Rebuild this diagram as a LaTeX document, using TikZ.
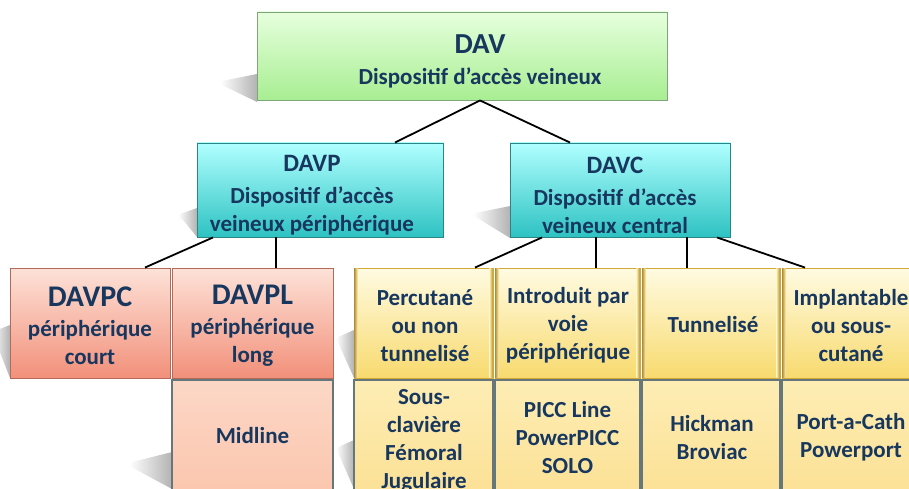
\documentclass[tikz,border=0pt]{standalone}
\usepackage{fontspec}
\setmainfont{Carlito}
\definecolor{txt}{HTML}{17375E}
\definecolor{gTop}{HTML}{E6FFDD}
\definecolor{gBot}{HTML}{A8EE92}
\definecolor{gBrd}{HTML}{7FA67A}
\definecolor{cTop}{HTML}{B0FFFF}
\definecolor{cBot}{HTML}{2EC2C2}
\definecolor{cBrd}{HTML}{2A8585}
\definecolor{sTop}{HTML}{FDE2D8}
\definecolor{sBot}{HTML}{F2907A}
\definecolor{sBrd}{HTML}{B36A5A}
\definecolor{mFill}{HTML}{FBC6AE}
\definecolor{yTop}{HTML}{FFFBE2}
\definecolor{yBot}{HTML}{F8DA6E}
\definecolor{yBrd}{HTML}{D2A838}
\definecolor{y2Top}{HTML}{FDEDB4}
\definecolor{y2Bot}{HTML}{FCE196}
\definecolor{grBrd}{HTML}{66777C}
\begin{document}
\begin{tikzpicture}[x=1pt,y=-1pt,
  box/.style={draw, line width=0.9pt, inner sep=0pt},
  lbl/.style={align=center, inner sep=0pt, text=txt,
    font=\bfseries\fontsize{23}{28}\selectfont},
  gbox/.style={box, draw=gBrd, top color=gTop, bottom color=gBot},
  cbox/.style={box, draw=cBrd, top color=cTop, bottom color=cBot},
  sbox/.style={box, draw=sBrd, top color=sTop, bottom color=sBot},
  mbox/.style={box, draw=grBrd, line width=1.3pt, top color=mFill!70!white, bottom color=mFill},
  ybox/.style={box, draw=yBrd, top color=yTop, bottom color=yBot},
  y2box/.style={box, draw=grBrd, line width=1.3pt, top color=y2Top, bottom color=y2Bot},
  conn/.style={line width=1.8pt, black},
  shadowtri/.style={left color=white, right color=black!30, draw=none},
  bevel/.style={left color=yBrd!85!black, right color=yBot!40!yTop, draw=none},
  bevelr/.style={right color=yBrd!85!black, left color=yBot!40!yTop, draw=none}
]
\useasboundingbox (0,0) rectangle (909,489);
\clip (0,0) rectangle (909,489);

% soft shadows
\shade[shadowtri] (257,74) -- (222,81) .. controls (220,84) .. (226,87) -- (257,102) -- cycle;
\shade[shadowtri] (510,206) -- (475,213) .. controls (473,216) .. (479,219) -- (510,238) -- cycle;
\shade[shadowtri] (197,208) -- (180,214) .. controls (178,217) .. (183,220) -- (197,237) -- cycle;
\shade[shadowtri] (10,325) -- (-8,332) -- (10,378) -- cycle;
\shade[shadowtri] (172,452) -- (132,462) .. controls (129,466) .. (135,469) -- (172,489) -- cycle;
\shade[shadowtri] (354,330) -- (336,338) -- (354,378) -- cycle;
\shade[shadowtri] (354,440) -- (336,448) -- (354,489) -- cycle;

% boxes
\node[gbox, minimum width=410pt, minimum height=88pt] (dav) at (462,56) {};
\node[cbox, minimum width=246pt, minimum height=94pt] (davp) at (320,190) {};
\node[cbox, minimum width=220pt, minimum height=94pt] (davc) at (620,190) {};
\node[sbox, minimum width=160pt, minimum height=110pt] (davpc) at (90,323) {};
\node[sbox, minimum width=161pt, minimum height=110pt] (davpl) at (252.5,323) {};
\node[ybox, minimum width=139pt, minimum height=110pt] (perc) at (423.5,323) {};
\node[ybox, minimum width=145pt, minimum height=110pt] (intro) at (567.5,323) {};
\node[ybox, minimum width=138pt, minimum height=110pt] (tunn) at (711,323) {};
\node[ybox, minimum width=138pt, minimum height=110pt] (impl) at (851,323) {};
\node[mbox, minimum width=161pt, minimum height=112pt] (mid) at (252.5,436) {};
\node[y2box, minimum width=139pt, minimum height=112pt] (sous) at (423.5,436) {};
\node[y2box, minimum width=145pt, minimum height=112pt] (picc) at (567.5,436) {};
\node[y2box, minimum width=138pt, minimum height=112pt] (hick) at (711,436) {};
\node[y2box, minimum width=138pt, minimum height=112pt] (port) at (851,436) {};

% bevel edges of the yellow boxes
\foreach \b in {perc,intro,tunn,impl}{
  \shade[bevel] ([xshift=0.5pt,yshift=-1pt]\b.north west) rectangle ([xshift=4pt,yshift=1pt]\b.south west);
  \shade[bevelr] ([xshift=-4pt,yshift=-1pt]\b.north east) rectangle ([xshift=-0.5pt,yshift=1pt]\b.south east);
}

% texts
\node[lbl] (davT) at (480,61)
  {{\fontsize{29}{30}\selectfont DAV}\\[3pt] Dispositif d’accès veineux};
\node[lbl] (davpT) at (312,195)
  {{\fontsize{25}{27}\selectfont DAVP}\\[4pt] Dispositif d’accès\\ veineux périphérique};
\node[lbl] (davcT) at (615,195)
  {{\fontsize{25}{27}\selectfont DAVC}\\[4pt] Dispositif d’accès\\ veineux central};
\node[lbl] (davpcT) at (90,326)
  {{\fontsize{30}{30}\selectfont DAVPC}\\[2pt] périphérique\\ court};
\node[lbl] (davplT) at (252.5,326)
  {{\fontsize{30}{30}\selectfont DAVPL}\\[2pt] périphérique\\ long};
\node[lbl] (percT) at (425,325.5) {Percutané\\ ou non\\ tunnelisé};
\node[lbl] (introT) at (568,325.5) {Introduit par\\ voie\\ périphérique};
\node[lbl] (tunnT) at (713,325) {Tunnelisé};
\node[lbl] (implT) at (851,325.5) {Implantable\\ ou sous-\\ cutané};
\node[lbl] (midT) at (252.5,436) {Midline};
\node[lbl] (sousT) at (424,440.5) {Sous-\\ clavière\\ Fémoral\\ Jugulaire};
\node[lbl] (piccT) at (567.5,437.5) {PICC Line\\ PowerPICC\\ SOLO};
\node[lbl] (hickT) at (712,438) {Hickman\\ Broviac};
\node[lbl] (portT) at (851,437) {Port-a-Cath\\ Powerport};

% connectors
\draw[conn] ([xshift=18pt]dav.south) -- ([xshift=75pt]davp.north);
\draw[conn] ([xshift=18pt]dav.south) -- ([xshift=-50pt]davc.north);
\draw[conn] ([xshift=-107pt]davp.south) -- ([xshift=55pt]davpc.north);
\draw[conn] ([xshift=-44pt]davp.south) -- ([xshift=23.5pt]davpl.north);
\draw[conn] ([xshift=-78pt]davc.south) -- ([xshift=51.5pt]perc.north);
\draw[conn] ([xshift=-24pt]davc.south) -- ([xshift=28.5pt]intro.north);
\draw[conn] ([xshift=67pt]davc.south) -- ([xshift=-24pt]tunn.north);
\draw[conn] ([xshift=97pt]davc.south) -- ([xshift=-46pt]impl.north);
\end{tikzpicture}
\end{document}
